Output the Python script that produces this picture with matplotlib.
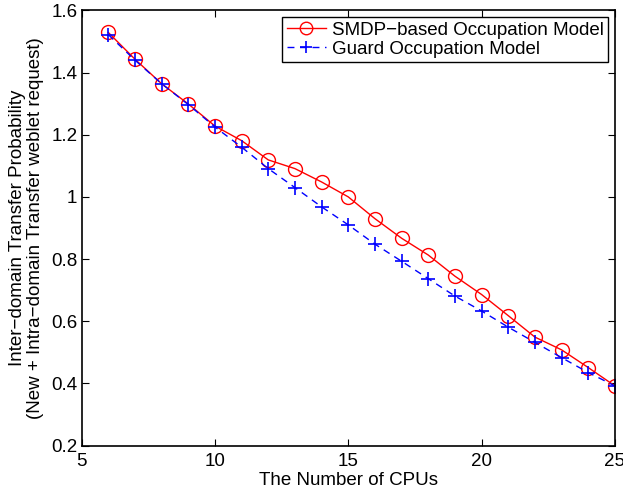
import matplotlib
matplotlib.use("Agg")
import matplotlib.pyplot as plt
from matplotlib.ticker import FuncFormatter

plt.rcParams['font.family'] = ['Liberation Sans', 'DejaVu Sans']

# Datos
cpus = [6, 7, 8, 9, 10, 11, 12, 13, 14, 15, 16, 17, 18, 19, 20, 21, 22, 23, 24, 25]
smdp = [1.529, 1.443, 1.364, 1.299, 1.228, 1.181, 1.119, 1.091, 1.048, 1.000,
        0.930, 0.867, 0.813, 0.745, 0.686, 0.618, 0.549, 0.508, 0.451, 0.392]
guard = [1.522, 1.440, 1.364, 1.297, 1.225, 1.160, 1.091, 1.030, 0.968, 0.910,
         0.848, 0.793, 0.737, 0.681, 0.633, 0.581, 0.532, 0.483, 0.435, 0.392]

x_ticks = [5, 10, 15, 20, 25]
y_ticks = [0.2, 0.4, 0.6, 0.8, 1.0, 1.2, 1.4, 1.6]

fs = 13.5

fig = plt.figure(figsize=(6.23, 4.94), dpi=100)
ax = fig.add_axes([0.131, 0.098, 0.856, 0.881])

ax.plot(cpus, smdp, color='red', linestyle='-', linewidth=1.0, marker='o',
        markersize=10, markerfacecolor='none', markeredgecolor='red',
        markeredgewidth=1.0, label='SMDP\u2212based Occupation Model')
ax.plot(cpus, guard, color='blue', linestyle='--', dashes=(5, 4), linewidth=1.0,
        marker='+', markersize=10, markeredgewidth=1.2,
        label='Guard Occupation Model')

ax.set_xlim(5, 25)
ax.set_ylim(0.2, 1.6)
ax.set_xticks(x_ticks)
ax.set_yticks(y_ticks)
ax.yaxis.set_major_formatter(FuncFormatter(lambda v, p: '%g' % round(v, 2)))
ax.tick_params(direction='in', top=True, right=True, labelsize=fs, length=5,
               width=0.8)
ax.tick_params(axis='x', pad=5)
ax.tick_params(axis='y', pad=3)
for s in ax.spines.values():
    s.set_linewidth(1.2)

ax.set_xlabel('The Number of CPUs', fontsize=fs, labelpad=2)
ax.set_ylabel('Inter\u2212domain Transfer Probability\n'
              '(New + Intra\u2212domain Transfer weblet request)', fontsize=fs,
              labelpad=5, linespacing=1.1)

leg = ax.legend(loc='upper right', fontsize=fs, fancybox=False, framealpha=1,
                edgecolor='black', borderaxespad=0.35, handlelength=2.1,
                borderpad=0.25, labelspacing=0.1, handletextpad=0.3,
                markerscale=0.9)
leg.get_frame().set_linewidth(1.0)

fig.savefig('out.png', dpi=100)
